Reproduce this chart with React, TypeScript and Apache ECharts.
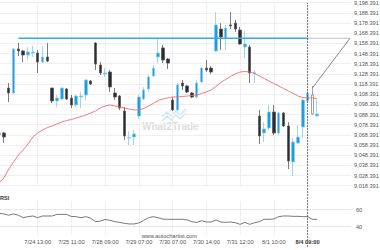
import { useEffect, useRef } from 'react';
import * as echarts from 'echarts';

// [open, close, low, high] for each candle, left to right
const candleOHLC: number[][] = [
  [9068.3, 9070.2, 9067.3, 9071.2],
  [9070.2, 9066.3, 9060.4, 9071.2],
  [9114.5, 9109.6, 9100.7, 9119.4],
  [9109.6, 9152.9, 9108.5, 9153.9],
  [9152.9, 9150.9, 9146.0, 9158.7],
  [9150.9, 9146.9, 9140.0, 9151.9],
  [9146.9, 9149.9, 9142.0, 9154.8],
  [9149.0, 9149.9, 9145.0, 9155.8],
  [9148.9, 9140.0, 9129.2, 9151.9],
  [9140.0, 9145.0, 9139.0, 9155.8],
  [9145.0, 9141.0, 9140.0, 9158.7],
  [9114.5, 9101.7, 9099.7, 9114.5],
  [9101.7, 9104.6, 9095.8, 9107.6],
  [9103.6, 9114.5, 9102.7, 9115.5],
  [9113.5, 9103.6, 9102.7, 9114.5],
  [9104.6, 9097.8, 9094.8, 9107.6],
  [9097.8, 9106.6, 9095.8, 9107.6],
  [9105.6, 9106.6, 9094.8, 9110.5],
  [9107.6, 9122.4, 9102.7, 9123.3],
  [9121.4, 9118.4, 9117.4, 9122.4],
  [9158.7, 9138.1, 9132.2, 9159.7],
  [9137.1, 9129.2, 9127.2, 9140.0],
  [9128.3, 9129.2, 9125.3, 9134.2],
  [9130.2, 9115.5, 9110.5, 9132.2],
  [9109.6, 9105.6, 9102.7, 9114.5],
  [9106.6, 9094.8, 9092.9, 9107.6],
  [9091.9, 9067.3, 9063.4, 9095.8],
  [9065.3, 9065.8, 9058.4, 9072.2],
  [9066.3, 9069.2, 9058.4, 9073.2],
  [9086.9, 9105.6, 9084.0, 9107.6],
  [9103.6, 9112.5, 9102.7, 9115.5],
  [9113.5, 9125.3, 9110.5, 9127.3],
  [9126.3, 9134.1, 9125.3, 9137.1],
  [9145.0, 9148.9, 9139.0, 9163.7],
  [9153.9, 9142.0, 9139.0, 9156.8],
  [9143.0, 9139.0, 9133.2, 9144.0],
  [9102.7, 9092.9, 9091.9, 9105.6],
  [9092.9, 9117.5, 9091.9, 9119.4],
  [9119.4, 9116.5, 9112.5, 9122.4],
  [9116.5, 9110.5, 9109.6, 9117.5],
  [9109.6, 9105.6, 9104.6, 9110.5],
  [9105.6, 9119.4, 9104.6, 9122.4],
  [9120.4, 9134.1, 9119.4, 9135.1],
  [9134.1, 9132.2, 9130.2, 9142.0],
  [9134.1, 9130.2, 9128.3, 9136.1],
  [9150.9, 9176.5, 9149.9, 9189.2],
  [9172.5, 9164.7, 9151.9, 9178.4],
  [9163.7, 9173.5, 9151.9, 9176.5],
  [9176.5, 9175.5, 9172.5, 9189.2],
  [9178.4, 9172.5, 9169.6, 9181.4],
  [9171.5, 9157.8, 9156.8, 9174.5],
  [9154.8, 9157.8, 9144.0, 9170.5],
  [9154.8, 9129.2, 9119.4, 9156.8],
  [9128.8, 9129.6, 9119.4, 9132.2],
  [9086.9, 9067.3, 9059.4, 9092.9],
  [9070.2, 9074.2, 9061.4, 9081.0],
  [9075.2, 9090.9, 9073.2, 9097.8],
  [9090.9, 9070.2, 9068.3, 9097.8],
  [9070.2, 9089.9, 9068.3, 9090.9],
  [9089.9, 9077.1, 9076.1, 9090.9],
  [9077.1, 9042.7, 9034.8, 9081.0],
  [9041.7, 9061.4, 9027.9, 9065.3],
  [9060.4, 9066.3, 9059.4, 9078.1],
  [9076.1, 9102.7, 9065.3, 9104.6],
  [9101.7, 9109.6, 9099.7, 9111.5],
  [9107.6, 9088.9, 9087.9, 9116.5],
  [9087.0, 9088.9, 9086.0, 9102.7],
];

const maValues: number[] = [
  9021.1, 9026.0, 9034.8, 9041.7, 9048.6, 9053.5, 9059.5, 9066.3, 9070.2, 9073.1,
  9075.6, 9077.1, 9079.1, 9081.0, 9082.5, 9083.5, 9085.0, 9086.5, 9087.9, 9089.9,
  9091.9, 9094.8, 9096.8, 9097.8, 9096.8, 9095.8, 9094.8, 9093.8, 9092.9, 9092.9,
  9094.3, 9096.8, 9099.3, 9102.2, 9103.7, 9104.7, 9105.7, 9105.7, 9106.1, 9106.6,
  9107.1, 9107.6, 9109.1, 9110.6, 9112.5, 9116.0, 9119.9, 9122.9, 9125.8, 9128.3,
  9130.2, 9130.7, 9130.2, 9128.8, 9126.3, 9123.8, 9121.4, 9118.9, 9116.5, 9114.0,
  9111.5, 9109.1, 9106.6, 9105.1, 9104.7, 9104.7, 9103.7,
];

const rsiValues: number[] = [
  55.8, 55.0, 53.5, 55.0, 53.5, 50.6, 51.8, 52.6, 50.6, 52.6,
  52.6, 52.6, 54.5, 54.5, 54.5, 52.0, 51.8, 50.6, 51.8, 50.0,
  46.0, 46.5, 48.5, 47.5, 46.0, 45.0, 44.0, 43.2, 43.2, 44.5,
  47.5, 50.6, 51.8, 50.5, 49.0, 48.7, 48.7, 48.7, 48.7, 47.9,
  45.9, 45.0, 47.0, 45.5, 45.5, 47.9, 45.5, 45.1, 45.5, 44.7,
  42.8, 45.1, 42.8, 44.7, 45.9, 48.7, 48.7, 49.1, 51.8, 52.6,
  52.6, 52.2, 52.2, 51.8, 51.8, 48.7, 48.7,
];

const tickIndices = [8, 15, 22, 29, 36, 43, 50, 57, 64];
const tickLabels = ['7/24 13:00', '7/25 11:00', '7/28 09:00', '7/29 07:00', '7/30 07:00', '7/30 14:00', '7/31 12:00', '8/1 10:00', '8/4 09:00'];
const highlightLabel = '8/4 09:00';
const slotCount = 74;

const priceMin = 9018.391;
const priceMax = 9198.39;
const priceStep = 10;
const rsiMin = 30;
const rsiMax = 70;
const rsiTicks = [40, 60];

const resistanceLevel = 9163.4;
const levelStartIndex = 4;
const signalIndex = 64;
const projectionEndIndex = 72.8;
const forecastStart = [65, 9114.5];
const forecastEnd = [72.8, 9163.4];
const hollowIndex = 65;

const categories = Array.from({ length: slotCount }, (_, i) => {
  const k = tickIndices.indexOf(i);
  return k >= 0 ? tickLabels[k] : '';
});

const fmtPrice = (v: number) => {
  const k = Math.round((v - priceMin) / priceStep);
  const snapped = priceMin + k * priceStep;
  return snapped.toLocaleString('en-US', { minimumFractionDigits: 3, maximumFractionDigits: 3 });
};

const FONT = '"Liberation Sans", Arial, sans-serif';
const GRID_LEFT = -0.9;
const GRID_WIDTH = 73 * 4.82;

export default function App() {
  const ref = useRef<HTMLDivElement>(null);

  useEffect(() => {
    if (!ref.current) return;
    const chart = echarts.init(ref.current, undefined, { renderer: 'svg' });
    const showLabel = (_i: number, v: string) => v !== '';

    const candleData = candleOHLC.map((d, i) =>
      i === hollowIndex
        ? {
            value: d,
            itemStyle: { color: '#ffffff', color0: '#ffffff', borderColor: '#8a8a8a', borderColor0: '#8a8a8a', borderWidth: 0.8 },
          }
        : d
    );

    const option: any = {
      animation: false,
      backgroundColor: '#ffffff',
      textStyle: { fontFamily: FONT },
      grid: [
        { left: GRID_LEFT, width: GRID_WIDTH, top: 2.7, height: 183, outerBoundsMode: 'none' },
        { left: GRID_LEFT, width: GRID_WIDTH, top: 201.2, height: 34, outerBoundsMode: 'none' },
        { left: GRID_LEFT, width: GRID_WIDTH, top: 3, height: 244, outerBoundsMode: 'none' },
      ],
      xAxis: [
        {
          type: 'category', gridIndex: 0, data: categories, boundaryGap: false,
          axisLine: { show: false }, axisTick: { show: false }, axisLabel: { show: false },
          splitLine: { show: true, interval: showLabel, lineStyle: { color: '#efefef', width: 1 } },
        },
        {
          type: 'category', gridIndex: 1, data: categories, boundaryGap: false,
          axisLine: { show: false }, axisTick: { show: false },
          axisLabel: {
            show: true, interval: showLabel, fontSize: 5.7, color: '#555', margin: 4, fontFamily: FONT,
            formatter: (v: string) => (v === highlightLabel ? '{b|' + v + '}' : v),
            rich: { b: { fontSize: 5.7, fontWeight: 'bold', color: '#333', fontFamily: FONT } },
          },
          splitLine: { show: true, interval: showLabel, lineStyle: { color: '#efefef', width: 1 } },
        },
        { type: 'value', gridIndex: 0, min: 0, max: slotCount - 1, show: false },
        { type: 'value', gridIndex: 2, min: 0, max: slotCount - 1, show: false },
      ],
      yAxis: [
        {
          type: 'value', gridIndex: 0, position: 'right', min: priceMin, max: priceMax, interval: priceStep,
          axisLine: { show: false }, axisTick: { show: false },
          axisLabel: { fontSize: 5.6, color: '#555', margin: 3, formatter: fmtPrice, fontFamily: FONT },
          splitLine: { show: true, lineStyle: { color: '#efefef', width: 1 } },
        },
        {
          type: 'value', gridIndex: 1, position: 'right', min: rsiMin, max: rsiMax, interval: 10,
          axisLine: { show: false }, axisTick: { show: false },
          axisLabel: {
            fontSize: 5.6, color: '#555', margin: 5, fontFamily: FONT,
            formatter: (v: number) => (rsiTicks.includes(Math.round(v)) ? String(Math.round(v)) : ''),
          },
          splitLine: { show: false },
        },
        { type: 'value', gridIndex: 2, min: 0, max: 1, show: false },
      ],
      series: [
        {
          type: 'candlestick', xAxisIndex: 0, yAxisIndex: 0, barWidth: 3, z: 2,
          itemStyle: { color: '#1f9de0', color0: '#2b2c33', borderColor: '#86cdf0', borderColor0: '#5a5a5a', borderWidth: 0.8 },
          data: candleData,
        },
        {
          type: 'line', xAxisIndex: 0, yAxisIndex: 0, data: maValues, symbol: 'none', z: 3,
          lineStyle: { color: '#f26d6d', width: 0.9 },
        },
        {
          type: 'line', xAxisIndex: 2, yAxisIndex: 0, symbol: 'none', z: 4,
          data: [[levelStartIndex, resistanceLevel], [signalIndex, resistanceLevel]],
          lineStyle: { color: '#2eaee9', width: 1.6 },
        },
        {
          type: 'line', xAxisIndex: 2, yAxisIndex: 0, symbol: 'none', z: 4,
          data: [[signalIndex, resistanceLevel], [projectionEndIndex, resistanceLevel]],
          lineStyle: { color: '#6a6a6a', width: 0.8, type: [1, 1] },
          markLine: {
            silent: true, symbol: ['none', 'arrow'], symbolSize: [0, 5],
            label: { show: false },
            lineStyle: { color: '#6a6a6a', width: 0.8, type: 'solid' },
            data: [[{ coord: forecastStart }, { coord: forecastEnd }]],
          },
        },
        {
          type: 'line', xAxisIndex: 1, yAxisIndex: 1, data: rsiValues, symbol: 'none', z: 3,
          lineStyle: { color: '#555', width: 0.8 },
          markLine: {
            silent: true, symbol: ['none', 'none'], label: { show: false },
            lineStyle: { color: '#e8e8e8', width: 1, type: 'solid' },
            data: rsiTicks.map((v) => ({ yAxis: v })),
          },
        },
        {
          type: 'line', xAxisIndex: 3, yAxisIndex: 2, symbol: 'none', z: 5,
          data: [[signalIndex, 0], [signalIndex, 1]],
          lineStyle: { color: '#555', width: 0.8, type: [2, 1] },
        },
      ],
      graphic: [
        {
          type: 'polyline', z: 0, silent: true,
          shape: { points: [[162, 117], [167, 112], [171, 116], [176, 111], [180, 115], [186, 109]] },
          style: { stroke: '#cfe5f4', lineWidth: 1.5, fill: null },
        },
        {
          type: 'polyline', z: 0, silent: true,
          shape: { points: [[162, 121], [167, 116], [171, 120], [176, 115], [180, 119], [186, 113]] },
          style: { stroke: '#cfe5f4', lineWidth: 1.5, fill: null },
        },
        {
          type: 'text', z: 0, silent: true, x: 142, y: 126,
          style: { text: 'What2Trade', fontSize: 10, fontWeight: 'bold', fill: '#dcdcdc', fontFamily: FONT, verticalAlign: 'middle', align: 'left' },
        },
        {
          type: 'text', z: 10, silent: true, x: 197, y: 235.5,
          style: { text: 'www.autochartist.com', fontSize: 5.7, fill: '#555', fontFamily: FONT, verticalAlign: 'middle', align: 'right' },
        },
        {
          type: 'text', z: 10, silent: true, x: 0, y: 198,
          style: { text: 'RSI', fontSize: 5.5, fontWeight: 'bold', fill: '#333', fontFamily: FONT, verticalAlign: 'middle', align: 'left' },
        },
      ],
    };

    chart.setOption(option);
    return () => chart.dispose();
  }, []);

  return (
    <div
      ref={ref}
      style={{ position: 'fixed', left: 0, top: 0, width: 380, height: 250, background: '#fff' }}
    />
  );
}
